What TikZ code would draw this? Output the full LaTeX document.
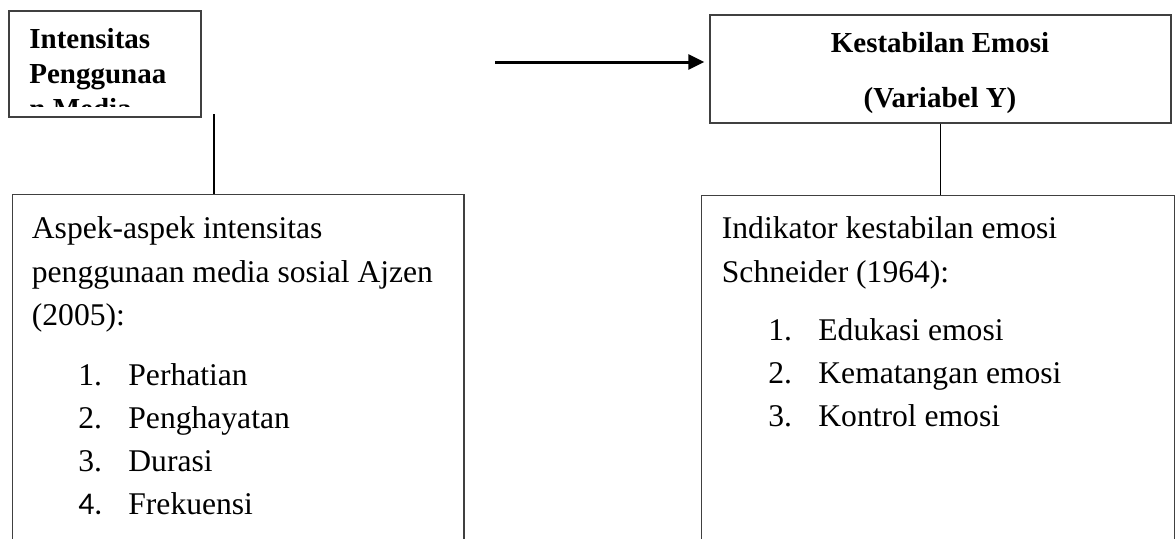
\documentclass[tikz,border=0pt]{standalone}
\usepackage{fontspec}
\setmainfont{Liberation Serif}
\newfontfamily\calibrifont{Carlito}
\usetikzlibrary{arrows.meta,positioning,calc}

\begin{document}
\begin{tikzpicture}[
    x=0.5pt, y=-0.5pt,
    varbox/.style={rectangle, draw=black!75, line width=0.7pt, inner sep=0pt},
    title/.style={font=\fontsize{14.5}{17.5}\selectfont\bfseries, inner sep=0pt},
    body/.style={font=\fontsize{15.8}{21.75}\selectfont, inner sep=0pt, align=left},
    link/.style={draw=black, line width=0.6pt},
    arrow/.style={-{Triangle[length=8pt,width=7.5pt]}, line width=1.5pt}
]
\useasboundingbox (0,0) rectangle (1176,538);

% Variabel X (third line hidden by the box)
\node[varbox, minimum width=96pt, minimum height=53pt] (media) at (105,64) {};
\begin{scope}
  \clip (media.north west) rectangle (201,106);
  \node[title, align=left, anchor=base west] (mediatext) at (29,118) {Intensitas\\Penggunaa\\n Media};
\end{scope}

% Variabel Y
\node[varbox, minimum width=230.5pt, minimum height=54pt] (kestabilan) at (940.5,69) {};
\node[title, anchor=base] (kestabilantext) at (940,52) {Kestabilan Emosi};
\node[title, anchor=base] (variabeltext) at (940,107) {(Variabel Y)};

% Aspek / indikator (bottom edge runs off the page)
\node[varbox, minimum width=225.8pt, minimum height=190pt, anchor=north west] (aspek) at (11.7,194) {};
\node[varbox, minimum width=236.6pt, minimum height=190pt, anchor=north west] (indikator) at (700.7,195) {};

\node[body, anchor=base west] (aspektext) at (31.5,325.5) {Aspek-aspek intensitas\\penggunaan media sosial Ajzen\\(2005):};
\foreach \n/\entry [count=\i] in {1./Perhatian, 2./Penghayatan, 3./Durasi, {\calibrifont 4.}/Frekuensi} {
  \node[body, anchor=base west] (aspekno\i) at (78, {385.5+43*(\i-1)}) {\n};
  \node[body, anchor=base west] (aspekitem\i) at (128, {385.5+43*(\i-1)}) {\entry};
}

\node[body, anchor=base west] (indikatortext) at (721.5,282) {Indikator kestabilan emosi\\Schneider (1964):};
\foreach \entry [count=\i] in {Edukasi emosi, Kematangan emosi, Kontrol emosi} {
  \node[body, anchor=base west] (indikatorno\i) at (768, {340+43*(\i-1)}) {\i.};
  \node[body, anchor=base west] (indikatoritem\i) at (818, {340+43*(\i-1)}) {\entry};
}

% Connections
\coordinate (mediaend) at (214,114);
\draw[link] (mediaend) -- (mediaend |- aspek.north);
\draw[link] (kestabilan.south) -- (kestabilan.south |- indikator.north);
\coordinate (arrowstart) at (495,62);
\draw[arrow, shorten >=2.5pt] (arrowstart) -- (arrowstart -| kestabilan.west);

\end{tikzpicture}
\end{document}
